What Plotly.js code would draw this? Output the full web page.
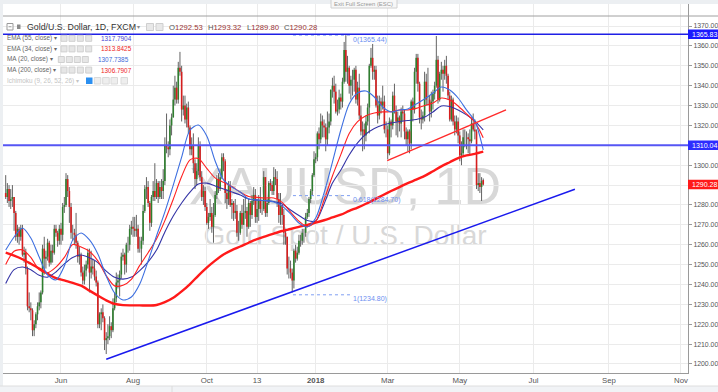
<!DOCTYPE html>
<html><head><meta charset="utf-8">
<script src="https://cdn.plot.ly/plotly-3.0.1.min.js"></script>
<style>html,body{margin:0;padding:0;background:#fff;overflow:hidden}#chart{width:718px;height:392px}</style>
</head><body><div id="chart"></div>
<script>
// ---------------- DATA ----------------
const startDate = '2017-04-17';   // first daily bar; bars are weekdays only
const openP = [
1286,1284,1288,1282,1283,1284,1276,1264,1268,1264,
1268,1255,1256,1248,1229,1228,1227,1217,1220,1225,
1229,1231,1236,1258,1253,1254,1261,1251,1257,1256,
1268,1266,1262,1268,1265,1279,1280,1293,1287,1279,
1266,1266,1265,1261,1254,1255,1246,1242,1247,1250,
1256,1246,1249,1248,1244,1241,1220,1225,1226,1223,
1212,1213,1214,1219,1217,1228,1233,1241,1242,1245,
1254,1255,1250,1260,1260,1268,1269,1268,1267,1268,
1258,1258,1262,1277,1288,1289,1281,1271,1284,1287,
1284,1291,1284,1289,1287,1292,1310,1309,1308,1320,
1324,1333,1339,1333,1349,1347,1328,1330,1323,1329,
1319,1308,1310,1301,1293,1297,1310,1294,1284,1287,
1279,1271,1274,1276,1269,1275,1285,1293,1288,1294,
1304,1302,1286,1283,1290,1280,1281,1276,1277,1266,
1266,1276,1270,1276,1277,1269,1281,1275,1282,1285,
1274,1278,1282,1278,1278,1294,1276,1281,1291,1290,
1287,1294,1293,1283,1275,1280,1275,1266,1264,1248,
1248,1246,1242,1257,1253,1256,1262,1262,1266,1266,
1274,1276,1283,1287,1295,1303,1304,1316,1313,1322,
1320,1319,1313,1319,1322,1338,1340,1337,1327,1328,
1334,1332,1342,1358,1347,1349,1340,1343,1343,1348,
1333,1339,1325,1317,1318,1315,1322,1329,1350,1354,
1347,1348,1330,1325,1332,1330,1332,1318,1318,1306,
1322,1320,1335,1327,1322,1324,1321,1327,1326,1317,
1313,1317,1311,1332,1328,1347,1354,1341,1324,1323,
1325,1342,1333,1333,1327,1332,1336,1340,1353,1333,
1346,1348,1346,1350,1345,1335,1323,1333,1322,1318,
1322,1315,1305,1306,1314,1314,1314,1313,1312,1321,
1318,1317,1290,1291,1289,1292.53];
const highP = [
1295,1291,1290,1288,1290,1284,1277,1270,1269,1270,
1270,1259,1258,1249,1236,1231,1228,1222,1226,1231,
1236,1237,1260,1264,1257,1263,1262,1260,1260,1270,
1270,1267,1270,1271,1281,1284,1296,1295,1289,1281,
1270,1268,1276,1262,1259,1256,1249,1250,1252,1258,
1258,1257,1253,1252,1247,1242,1226,1228,1230,1224,
1216,1220,1224,1221,1233,1236,1246,1245,1247,1256,
1258,1256,1261,1264,1270,1272,1274,1274,1275,1270,
1264,1264,1280,1290,1294,1292,1282,1285,1292,1301,
1293,1292,1292,1293,1298,1314,1326,1312,1323,1326,
1340,1345,1342,1352,1357,1350,1335,1335,1331,1332,
1320,1314,1316,1303,1301,1314,1312,1297,1290,1289,
1281,1276,1283,1279,1281,1287,1295,1296,1298,1306,
1306,1303,1288,1292,1292,1283,1282,1283,1280,1272,
1277,1280,1283,1284,1279,1283,1282,1285,1289,1288,
1283,1285,1289,1282,1297,1294,1283,1292,1293,1292,
1299,1298,1297,1286,1286,1280,1278,1268,1264,1254,
1252,1248,1258,1260,1259,1265,1265,1268,1268,1276,
1278,1284,1288,1296,1307,1306,1317,1319,1326,1325,
1323,1321,1327,1326,1338,1344,1345,1341,1333,1338,
1336,1344,1362,1365.4,1355,1350,1345,1348,1349,1350,
1342,1346,1330,1322,1321,1325,1331,1351,1359,1361,
1350,1350,1335,1335,1334,1340,1335,1322,1320,1324,
1323,1337,1341,1330,1327,1325,1329,1330,1328,1319,
1318,1318,1333,1334,1349,1356,1356,1342,1328,1327,
1347,1346,1349,1335,1337,1338,1342,1365,1355,1347,
1352,1350,1353,1355,1346,1337,1335,1334,1325,1325,
1324,1317,1312,1318,1318,1317,1316,1318,1324,1326,
1323,1318,1296,1296,1294,1293.32];
const lowP = [
1283,1281,1279,1278,1279,1267,1262,1261,1260,1262,
1254,1251,1245,1227,1226,1222,1214,1214,1218,1222,
1227,1228,1235,1245,1248,1252,1249,1250,1251,1255,
1264,1259,1260,1260,1262,1276,1279,1284,1271,1263,
1262,1260,1258,1251,1250,1244,1240,1240,1244,1248,
1236,1243,1245,1242,1239,1218,1218,1217,1221,1207,
1205,1210,1212,1213,1216,1227,1231,1238,1234,1243,
1252,1245,1246,1256,1257,1265,1264,1264,1264,1256,
1256,1250,1260,1276,1283,1279,1267,1269,1282,1282,
1283,1281,1283,1283,1283,1290,1306,1304,1305,1315,
1324,1330,1331,1331,1345,1322,1325,1321,1319,1316,
1305,1305,1296,1288,1290,1295,1292,1282,1280,1277,
1270,1268,1272,1266,1261,1274,1283,1286,1287,1293,
1297,1281,1278,1280,1279,1273,1272,1273,1264,1262,
1265,1268,1270,1273,1264,1268,1269,1273,1280,1271,
1271,1272,1276,1275,1277,1274,1274,1280,1287,1285,
1285,1290,1279,1271,1270,1270,1260,1260,1245,1243,
1243,1236,1238,1251,1252,1255,1259,1260,1261,1264,
1273,1274,1281,1285,1294,1301,1302,1308,1311,1314,
1314,1307,1310,1316,1320,1334,1331,1326,1325,1326,
1328,1329,1341,1342,1341,1336,1333,1335,1337,1331,
1330,1323,1315,1307,1308,1312,1320,1316,1349,1343,
1343,1329,1321,1323,1326,1328,1316,1314,1303,1305,
1314,1318,1326,1315,1314,1317,1314,1322,1313,1310,
1307,1306,1308,1322,1326,1341,1337,1321,1318,1321,
1322,1330,1330,1322,1324,1328,1333,1339,1331,1332,
1343,1337,1343,1341,1333,1322,1322,1320,1315,1316,
1311,1302,1300,1305,1309,1308,1306,1305,1311,1317,
1313,1288,1287,1286,1282,1289.8];
const closeP = [
1284,1288,1282,1283,1284,1276,1264,1268,1264,1268,
1255,1256,1248,1229,1228,1227,1217,1220,1225,1229,
1231,1236,1258,1253,1254,1261,1251,1257,1256,1268,
1266,1262,1268,1265,1279,1280,1293,1287,1279,1266,
1266,1265,1261,1254,1255,1246,1242,1247,1250,1256,
1246,1249,1248,1244,1241,1220,1225,1226,1223,1212,
1213,1214,1219,1217,1228,1233,1241,1242,1245,1254,
1255,1250,1260,1260,1268,1269,1268,1267,1268,1258,
1258,1262,1277,1288,1289,1281,1271,1284,1287,1284,
1291,1284,1289,1287,1292,1310,1309,1308,1320,1324,
1333,1339,1333,1349,1347,1328,1330,1323,1329,1319,
1308,1310,1301,1293,1297,1310,1294,1284,1287,1279,
1271,1274,1276,1269,1275,1285,1293,1288,1294,1304,
1302,1286,1283,1290,1280,1281,1276,1277,1266,1266,
1276,1270,1276,1277,1269,1281,1275,1282,1285,1274,
1278,1282,1278,1278,1294,1276,1281,1291,1290,1287,
1294,1293,1283,1275,1280,1275,1266,1264,1248,1248,
1246,1242,1257,1253,1256,1262,1262,1266,1266,1274,
1276,1283,1287,1295,1303,1304,1316,1313,1322,1320,
1319,1313,1319,1322,1338,1340,1337,1327,1328,1334,
1332,1342,1358,1347,1349,1340,1343,1343,1348,1333,
1339,1325,1317,1318,1315,1322,1329,1350,1354,1347,
1348,1330,1325,1332,1330,1332,1318,1318,1306,1322,
1320,1335,1327,1322,1324,1321,1327,1326,1317,1313,
1317,1311,1332,1328,1347,1354,1341,1324,1323,1325,
1342,1333,1333,1327,1332,1336,1340,1353,1333,1346,
1348,1346,1350,1345,1335,1323,1333,1322,1318,1322,
1315,1305,1306,1314,1314,1314,1313,1312,1321,1318,
1317,1290,1291,1289,1292,1290.28];

// indicator lines, read every 5th bar
const maStep = 5;
const ma200 = [1256.0,1254.5,1252.7,1250.4,1248.0,1245.4,1243.2,1242.1,1240.8,1239.4,
1236.9,1234.4,1232.0,1230.2,1229.6,1229.5,1229.5,1229.4,1229.7,1231.1,
1233.3,1236.5,1240.2,1244.5,1248.5,1252.0,1255.1,1257.3,1259.1,1261.0,
1262.8,1264.2,1265.6,1266.9,1267.9,1269.0,1270.0,1271.1,1272.3,1273.7,
1275.1,1277.0,1278.7,1280.6,1282.7,1284.9,1287.0,1289.0,1291.0,1292.7,
1294.6,1297.0,1299.4,1301.5,1303.6,1304.9,1305.7,1306.79];
const ma20 = [1257.3,1263.9,1268.4,1263.4,1253.8,1244.8,1242.3,1249.3,1262.4,1265.9,
1262.4,1255.3,1244.3,1235.7,1232.2,1233.7,1240.2,1251.8,1264.4,1276.5,
1290.0,1304.1,1317.7,1320.2,1314.7,1302.1,1292.6,1289.0,1286.5,1283.0,
1282.5,1282.2,1281.5,1279.5,1275.5,1270.9,1268.9,1273.4,1286.0,1301.6,
1317.7,1330.8,1336.3,1337.3,1334.3,1329.3,1326.8,1327.8,1328.3,1330.8,
1333.3,1336.3,1339.3,1337.8,1333.8,1327.8,1322.2,1307.74];
const ema34 = [1250.1,1256.7,1257.4,1253.6,1247.4,1245.9,1248.7,1253.6,1260.1,1258.8,
1256.6,1251.9,1244.4,1239.3,1239.6,1242.6,1249.6,1256.0,1262.9,1272.1,
1282.9,1294.3,1302.7,1303.4,1298.4,1293.6,1291.4,1289.3,1286.4,1284.3,
1283.8,1283.5,1283.5,1281.3,1276.4,1271.9,1269.1,1271.7,1282.5,1294.6,
1305.3,1316.0,1321.9,1324.9,1326.3,1326.8,1326.9,1327.8,1327.8,1328.6,
1330.0,1331.3,1333.8,1332.8,1329.8,1325.8,1321.7,1313.84];
const ema55 = [1240.5,1247.5,1248.8,1247.4,1244.6,1243.7,1246.3,1250.4,1253.6,1254.8,
1253.4,1251.0,1246.7,1243.6,1242.7,1243.7,1247.0,1251.4,1257.3,1266.4,
1274.4,1281.0,1286.5,1290.5,1291.0,1289.5,1288.0,1286.5,1285.0,1283.0,
1282.5,1282.2,1281.7,1280.5,1277.5,1274.7,1272.2,1271.9,1280.5,1291.0,
1297.6,1305.1,1311.2,1315.7,1318.5,1320.2,1321.2,1322.0,1322.5,1323.0,
1324.2,1326.8,1329.8,1329.5,1327.8,1325.3,1322.2,1317.79];

// drawings
const hLevels = [1365.83, 1310.04];
const lastPrice = 1290.28;
const blueTrend = {x:['2017-07-10','2018-08-03 17:00'], y:[1202.4,1287.9]};
const redTrend  = {x:['2018-02-28 17:00','2018-06-07 14:00'], y:[1302.3,1327.8]};
const fibX = ['2017-12-12 11:00','2018-01-29 12:00'];
const fibLevels = [1365.44, 1284.70, 1234.80];
const fibNames = ['0','0.618','1'];

// axes
const tickDates = ['2017-06-01','2017-08-01','2017-10-02','2017-11-13','2018-01-01','2018-03-01','2018-05-01','2018-07-02','2018-09-03','2018-11-01'];
const tickText = ['Jun','Aug','Oct','13','<b>2018</b>','Mar','May','Jul','Sep','Nov'];
const yTicks = [1200,1210,1220,1230,1240,1250,1260,1270,1280,1290,1300,1310,1320,1330,1340,1350,1360,1370];
const yHiddenByTags = [1290,1310];

// ---------------- BUILD ----------------
const FONT = 'Liberation Sans, Arial, sans-serif';
function tradingDays(start, n){
  const out=[]; const d=new Date(start+'T00:00:00Z');
  while(out.length<n){ const w=d.getUTCDay(); if(w!==0&&w!==6) out.push(d.toISOString().slice(0,10)); d.setUTCDate(d.getUTCDate()+1); }
  return out;
}
const N = closeP.length;
const dates = tradingDays(startDate, N);
const wx=[],wy=[],ux=[],uy=[],dx=[],dy=[];
for(let i=0;i<N;i++){
  wx.push(dates[i],dates[i],null); wy.push(lowP[i],highP[i],null);
  if(closeP[i]>=openP[i]){ ux.push(dates[i],dates[i],null); uy.push(openP[i],closeP[i],null); }
  else { dx.push(dates[i],dates[i],null); dy.push(openP[i],closeP[i],null); }
}
const maX = ma200.map((_,k)=>dates[k*maStep]);

const traces = [
  {x:wx,y:wy,mode:'lines',line:{color:'#636363',width:1},hoverinfo:'skip'},
  {x:ux,y:uy,mode:'lines',line:{color:'#2f7f2f',width:1.6},hoverinfo:'skip'},
  {x:dx,y:dy,mode:'lines',line:{color:'#d61e1e',width:1.6},hoverinfo:'skip'},
  {x:maX,y:ma200,mode:'lines',line:{color:'#ff1a1a',width:2.4,shape:'spline',smoothing:0.8}},
  {x:maX,y:ema55,mode:'lines',line:{color:'#3434a6',width:1.1,shape:'spline',smoothing:0.8}},
  {x:maX,y:ema34,mode:'lines',line:{color:'#ff2020',width:1.1,shape:'spline',smoothing:0.8}},
  {x:maX,y:ma20,mode:'lines',line:{color:'#3d6fe0',width:1.1,shape:'spline',smoothing:0.8}},
  {x:blueTrend.x,y:blueTrend.y,mode:'lines',line:{color:'#1a1aee',width:1.5}},
  {x:redTrend.x,y:redTrend.y,mode:'lines',line:{color:'#ff2a2a',width:1.4}}
];
fibLevels.forEach(v=>traces.push({x:fibX,y:[v,v],mode:'lines',line:{color:'#7f9ff2',width:1,dash:'dot'}}));

// pixel -> paper helpers for layout decorations
const PL=3, PR=688, PT=4, PB=373;
const fx = x => (x-PL)/(PR-PL);
const fy = y => (PB-y)/(PB-PT);
const shapes = [];
const ann = [];
function rect(x0,y0,x1,y1,fill,line,layer){ shapes.push({type:'rect',xref:'paper',yref:'paper',x0:fx(x0),x1:fx(x1),y0:fy(y1),y1:fy(y0),fillcolor:fill,line:{color:line||fill,width:line?1:0},layer:layer||'above'}); }
function pline(x0,y0,x1,y1,color,w){ shapes.push({type:'line',xref:'paper',yref:'paper',x0:fx(x0),x1:fx(x1),y0:fy(y0),y1:fy(y1),line:{color:color,width:w||1},layer:'above'}); }
function txt(x,y,text,size,color,extra){ ann.push(Object.assign({xref:'paper',yref:'paper',x:fx(x),y:fy(y),xanchor:'left',yanchor:'middle',text:text,showarrow:false,borderpad:0,font:{family:FONT,size:size,color:color}},extra||{})); }

// frame decorations
rect(-5,0,725,4,'#eceff2',null,'below');
rect(-5,0,3,395,'#eceff2',null,'below');
rect(-5,386,725,395,'#f1f3f6',null,'below');
pline(-5,386,725,386,'#dedede',1);
pline(172,386,172,392,'#dcdcdc',1);
pline(3,16,725,16,'#a0a0a0',1);
rect(331,-1,397,8,'#f7f7f7','#d0d0d0');
txt(364,4.3,'Exit Full Screen (ESC)',5.9,'#999',{xanchor:'center'});

// watermark (below traces)
shapes.push({type:'rect',xref:'paper',yref:'paper',x0:fx(140),x1:fx(550),y0:fy(206),y1:fy(156),line:{width:0},fillcolor:'rgba(0,0,0,0)',layer:'below',
  label:{text:'XAUUSD, 1D',font:{family:FONT,size:52,color:'#d8d8d8'},textposition:'middle center'}});
shapes.push({type:'rect',xref:'paper',yref:'paper',x0:fx(140),x1:fx(550),y0:fy(244),y1:fy(220),line:{width:0},fillcolor:'rgba(0,0,0,0)',layer:'below',
  label:{text:'Gold Spot / U.S. Dollar',font:{family:FONT,size:28,color:'#d8d8d8'},textposition:'middle center'}});

// horizontal level lines
shapes.push({type:'line',xref:'paper',yref:'y',x0:0,x1:1,y0:hLevels[0],y1:hLevels[0],line:{color:'#1f1fe6',width:1.5},layer:'above'});
shapes.push({type:'line',xref:'paper',yref:'y',x0:0,x1:1,y0:hLevels[1],y1:hLevels[1],line:{color:'#5656f4',width:2.2},layer:'above'});

// axis price tags
function tag(v,fill){
  shapes.push({type:'rect',xref:'paper',yref:'y',x0:fx(688),x1:fx(722),y0:v-2.4,y1:v+2.4,fillcolor:fill,line:{width:0},layer:'above'});
  ann.push({xref:'paper',yref:'y',x:fx(690.5),y:v,xanchor:'left',yanchor:'middle',text:v.toFixed(2),showarrow:false,borderpad:0,font:{family:FONT,size:7,color:'#ffffff'}});
}
tag(hLevels[0],'#1a1aff'); tag(hLevels[1],'#2d2dff'); tag(lastPrice,'#ff1a1a');

// fib labels
ann.push({xref:'x',yref:'y',x:'2018-01-30 17:00',y:1363.0,xanchor:'left',yanchor:'middle',showarrow:false,borderpad:0,text:fibNames[0]+'('+fibLevels[0].toFixed(2)+')',font:{family:FONT,size:7,color:'#6c8ef0'}});
ann.push({xref:'x',yref:'y',x:'2018-01-30 17:00',y:1282.3,xanchor:'left',yanchor:'middle',showarrow:false,borderpad:0,text:fibNames[1]+'('+fibLevels[1].toFixed(2)+')',font:{family:FONT,size:7,color:'#6c8ef0'}});
ann.push({xref:'x',yref:'y',x:'2018-01-30 17:00',y:1232.6,xanchor:'left',yanchor:'middle',showarrow:false,borderpad:0,text:fibNames[2]+'('+fibLevels[2].toFixed(2)+')',font:{family:FONT,size:7,color:'#6c8ef0'}});

// legend header
rect(7,23.5,13,30,'#ffffff','#9a9a9a'); pline(8.5,26.75,11.5,26.75,'#9a9a9a',1);
rect(17,24.5,20.5,29,'#8a8a8a');
txt(25.5,27,'Gold/U.S. Dollar, 1D, FXCM',8.8,'#333');
txt(136,27,'▾',6,'#888');
rect(146.5,23.5,153.5,30.5,'#e8e8e8','#cfcfcf'); rect(156,23.5,163,30.5,'#e8e8e8','#cfcfcf');
const VC = '#9b3535';
txt(167.5,27,'O<span style="color:'+VC+'">1292.53</span>',7.7,'#555');
txt(206.5,27,'H<span style="color:'+VC+'">1293.32</span>',7.7,'#555');
txt(245.5,27,'L<span style="color:'+VC+'">1289.80</span>',7.7,'#555');
txt(282.5,27,'C<span style="color:'+VC+'">1290.28</span>',7.7,'#555');

// indicator rows
const rows = [
  {name:'EMA (55, close) ▾', y:38.3, icons:[61,69,77.3,85.7], vx:100, val:'1317.7904', vc:'#4747cf'},
  {name:'EMA (34, close) ▾', y:48.9, icons:[61,69,77.3,85.7], vx:100, val:'1313.8425', vc:'#ee2424'},
  {name:'MA (20, close) ▾',  y:59.5, icons:[58.3,66.3,74.3,82.3], vx:97, val:'1307.7385', vc:'#3d6bd8'},
  {name:'MA (200, close) ▾', y:70.1, icons:[61,69,77.3,85.7], vx:100, val:'1306.7907', vc:'#ee2424'}
];
rows.forEach(r=>{
  txt(5.5,r.y,r.name,6.4,'#666');
  r.icons.forEach(ix=>rect(ix,r.y-3,ix+6,r.y+3,'#e6e6e6','#d0d0d0'));
  txt(r.vx,r.y,r.val,6.4,r.vc);
});
txt(5.5,80.7,'Ichimoku (9, 26, 52, 26) ▾',6.4,'#c4c4c4');
rect(86,77.5,92.5,84,'#2b8ff0');
[94.3,102.7,111,121].forEach(ix=>rect(ix,77.5,ix+6.5,84,'#eeeeee','#dadada'));

const layout = {
  width:718, height:392,
  margin:{l:PL,r:718-PR,t:PT,b:392-PB,pad:0},
  paper_bgcolor:'#ffffff', plot_bgcolor:'#ffffff',
  showlegend:false,
  font:{family:FONT,size:8,color:'#555'},
  xaxis:{type:'date',range:['2017-04-13 09:21','2018-11-07 04:48'],rangebreaks:[{bounds:['sat','mon']}],
    tickmode:'array',tickvals:tickDates,ticktext:tickText,showgrid:true,gridcolor:'#ebebeb',gridwidth:1,
    showline:true,linecolor:'#9a9a9a',linewidth:1,ticks:'',tickfont:{family:FONT,size:7.8,color:'#555'},
    zeroline:false,rangeslider:{visible:false},fixedrange:true},
  yaxis:{side:'right',range:[1195.47,1381.09],tickmode:'array',tickvals:yTicks,
    ticktext:yTicks.map(v=>yHiddenByTags.includes(v)?'':v.toFixed(2)),
    showgrid:true,gridcolor:'#ebebeb',gridwidth:1,showline:true,linecolor:'#9a9a9a',linewidth:1,
    ticks:'outside',ticklen:3,tickcolor:'#9a9a9a',tickfont:{family:FONT,size:6.9,color:'#555'},
    zeroline:false,fixedrange:true},
  shapes:shapes, annotations:ann
};
Plotly.newPlot('chart',traces,layout,{staticPlot:true,displayModeBar:false});
</script></body></html>
